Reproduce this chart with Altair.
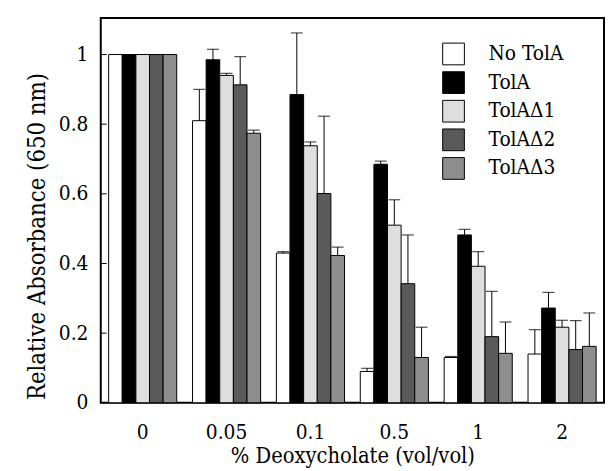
import altair as alt
import pandas as pd

categories = ["0", "0.05", "0.1", "0.5", "1", "2"]
series = ["No TolA", "TolA", "TolAΔ1", "TolAΔ2", "TolAΔ3"]

no_tola = [1.0, 0.81, 0.43, 0.09, 0.13, 0.14]
no_tola_err = [0.0, 0.09, 0.004, 0.009, 0.003, 0.07]
tola = [1.0, 0.985, 0.885, 0.685, 0.482, 0.272]
tola_err = [0.0, 0.03, 0.177, 0.009, 0.016, 0.045]
d1 = [1.0, 0.94, 0.738, 0.51, 0.392, 0.217]
d1_err = [0.0, 0.006, 0.011, 0.073, 0.042, 0.02]
d2 = [1.0, 0.913, 0.601, 0.342, 0.19, 0.153]
d2_err = [0.0, 0.081, 0.222, 0.14, 0.13, 0.083]
d3 = [1.0, 0.774, 0.423, 0.13, 0.142, 0.162]
d3_err = [0.0, 0.009, 0.024, 0.087, 0.09, 0.096]

y_ticks = [0, 0.2, 0.4, 0.6, 0.8, 1.0]
fills = ["#ffffff", "#000000", "#dedede", "#5a5a5a", "#8e8e8e"]

values = [no_tola, tola, d1, d2, d3]
errors = [no_tola_err, tola_err, d1_err, d2_err, d3_err]

rows = []
for s, vals, errs in zip(series, values, errors):
    for c, v, e in zip(categories, vals, errs):
        rows.append({"conc": c, "strain": s, "value": v, "upper": v + e, "has_err": e > 0})
df = pd.DataFrame(rows)
tick_df = pd.DataFrame({"t": y_ticks})

FONT = "'DejaVu Serif Condensed', 'DejaVu Serif', serif"
YTITLE = "Relative Absorbance (650 nm)"

x_enc = alt.X(
    "conc:N",
    sort=categories,
    scale=alt.Scale(paddingInner=0.188, paddingOuter=0.094),
    axis=alt.Axis(
        title="% Deoxycholate (vol/vol)",
        labelAngle=0,
        ticks=False,
        tickSize=0,
        domain=False,
        labelPadding=19,
        titlePadding=3,
        labelFontSize=21,
        titleFontSize=22,
        labelFont=FONT,
        titleFont=FONT,
    ),
)
xoff_enc = alt.XOffset("strain:N", sort=series, scale=alt.Scale(paddingInner=0, paddingOuter=0))
y_scale = alt.Scale(domain=[0, 1.105], nice=False, zero=True)

bars = alt.Chart(df).mark_bar(stroke="black", strokeWidth=1).encode(
    x=x_enc,
    xOffset=xoff_enc,
    y=alt.Y(
        "value:Q",
        scale=y_scale,
        axis=alt.Axis(
            title=YTITLE,
            values=y_ticks,
            format="~g",
            ticks=False,
            tickSize=0,
            domain=False,
            grid=False,
            labelPadding=13,
            labelFontSize=21,
            titleFontSize=24,
            titlePadding=9,
            titleY=221,
            labelFont=FONT,
            titleFont=FONT,
        ),
    ),
    color=alt.Color(
        "strain:N",
        sort=series,
        scale=alt.Scale(domain=series, range=fills),
        legend=alt.Legend(
            title=None,
            orient="none",
            legendX=346,
            legendY=25,
            symbolType="square",
            symbolSize=484,
            symbolStrokeColor="black",
            symbolStrokeWidth=1,
            symbolOpacity=1,
            labelFontSize=21,
            labelFont=FONT,
            labelOffset=24,
            rowPadding=2,
        ),
    ),
)

err = alt.Chart(df).transform_filter("datum.has_err").mark_rule(color="black", strokeWidth=1).encode(
    x=x_enc,
    xOffset=xoff_enc,
    y=alt.Y("value:Q", scale=y_scale, title=YTITLE),
    y2="upper:Q",
)

caps = alt.Chart(df).transform_filter("datum.has_err").mark_tick(
    color="black", thickness=1.2, size=12, orient="horizontal"
).encode(
    x=x_enc,
    xOffset=xoff_enc,
    y=alt.Y("upper:Q", scale=y_scale, title=YTITLE),
)

inner_ticks = alt.Chart(tick_df).mark_rule(color="black", strokeWidth=1).encode(
    x=alt.value(0),
    x2=alt.value(6),
    y=alt.Y("t:Q", scale=y_scale, title=YTITLE),
)

chart = (
    alt.layer(bars, err, caps, inner_ticks)
    .properties(
        width=510,
        height=390,
        padding={"left": 94, "top": 7, "right": 1, "bottom": 65},
        autosize=alt.AutoSizeParams(type="none"),
    )
    .configure(font=FONT)
    .configure_view(stroke="black", strokeWidth=2)
    .configure_axis(
        labelColor="black",
        titleColor="black",
        labelFont=FONT,
        titleFont=FONT,
        titleFontWeight="normal",
    )
    .configure_legend(labelColor="black", labelFont=FONT)
)

chart.save("out.html", embed_options={"renderer": "svg", "actions": False})
